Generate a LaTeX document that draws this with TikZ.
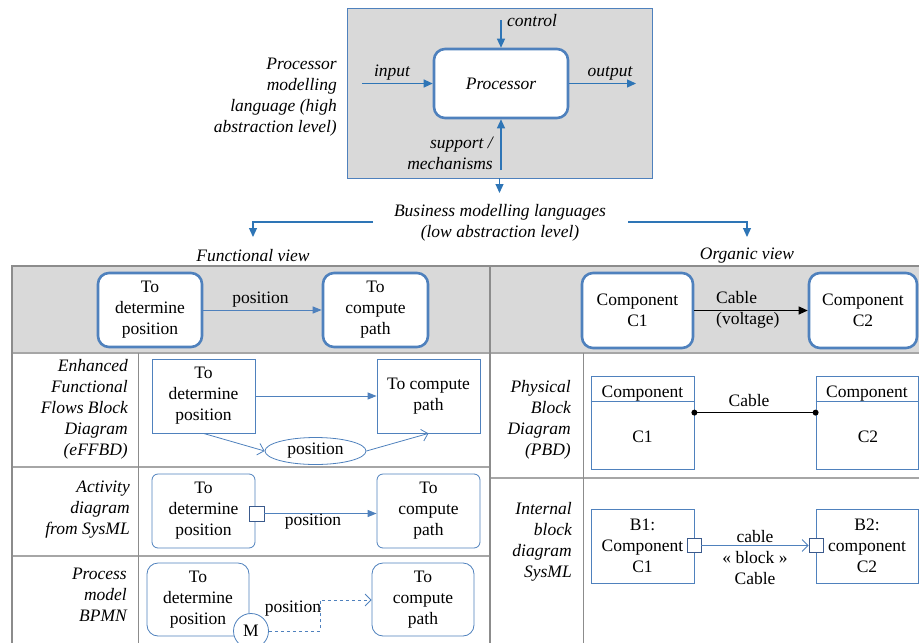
\documentclass[tikz,border=0pt]{standalone}
\usepackage{fontspec}
\setmainfont{Liberation Serif}
\usetikzlibrary{arrows.meta,shapes.geometric}
\definecolor{bl}{HTML}{4F81BD}
\definecolor{ab}{HTML}{2E75B6}
\definecolor{gr}{HTML}{D9D9D9}
\definecolor{tl}{HTML}{8C8C8C}
\definecolor{tl2}{HTML}{A6A6A6}
\definecolor{pn}{HTML}{3B5A8C}
\begin{document}
\begin{tikzpicture}[x=1pt,y=-1pt,
  every node/.style={font=\fontsize{17.5}{21}\selectfont, inner sep=0pt, align=center, text=black},
  lab/.style={font=\fontsize{17.5}{21}\selectfont\itshape},
  tbox/.style={draw=bl, line width=2.6pt, rounded corners=11pt, fill=white},
  sbox/.style={draw=bl, line width=0.8pt, fill=white},
  rbox/.style={draw=bl, line width=0.8pt, fill=white, rounded corners=6pt},
  rbox2/.style={draw=bl, line width=0.8pt, fill=white, rounded corners=11pt},
  pin/.style={draw=pn, line width=0.8pt, fill=white, minimum size=15pt},
  ar/.style={draw=ab, line width=1.2pt, -{Triangle[length=9pt,width=8pt]}},
  fa/.style={draw=bl, line width=1pt, -{Triangle[length=9pt,width=7pt]}},
  oa/.style={draw=bl, line width=0.8pt, -{Straight Barb[length=6pt,width=12pt]}}
]
\useasboundingbox (0,0) rectangle (919,643);

% ---------- top processor block ----------
\node[draw=bl, fill=gr, line width=0.8pt, minimum width=305pt, minimum height=170pt] (top) at (499.5,93) {};
\node[tbox, minimum width=134pt, minimum height=69pt] (proc) at (501,83.5) {\itshape Processor};
\coordinate (ctl) at (501,20);
\coordinate (inp) at (362,83.5);
\coordinate (outp) at (636,83.5);
\coordinate (sup) at (501,170);
\coordinate (bma) at (499.5,193);
\draw[ar] (ctl) -- (proc.north);
\draw[ar] (inp) -- (proc.west);
\draw[ar] (proc.east) -- (outp);
\draw[ar] (sup) -- (proc.south);
\draw[ar] (top.south) -- (bma);
\node[lab, anchor=west] (lctl) at (507,21) {control};
\node[lab] (linp) at (392,73) {input};
\node[lab] (lout) at (610,73) {output};
\node[lab, align=right, anchor=east] (lsup) at (493,153) {support /\\mechanisms};
\node[lab, align=right, anchor=east] (lpml) at (337,97.5) {Processor\\modelling\\language (high\\abstraction level)};

% ---------- business modelling ----------
\node[lab] (bus) at (500,223) {Business modelling languages\\(low abstraction level)};
\coordinate (bl1) at (373,222);
\coordinate (fv) at (253,237);
\coordinate (br1) at (628,222);
\coordinate (ov) at (747,237);
\draw[ar] (bl1) -| (fv);
\draw[ar] (br1) -| (ov);
\node[lab] (lfv) at (253,256) {Functional view};
\node[lab] (lov) at (747,256) {Organic view};

% ---------- table ----------
\fill[gr] (12,266) rectangle (919,353);
\draw[tl2, line width=1.6pt] (12,353) -- (919,353);
\draw[tl2, line width=1.6pt] (12,467) -- (490,467);
\draw[tl2, line width=1.6pt] (12,556) -- (490,556);
\draw[tl2, line width=1.6pt] (490,478) -- (919,478);
\draw[tl, line width=1pt] (138,353) -- (138,643);
\draw[tl, line width=1pt] (583,353) -- (583,643);
\draw[tl, line width=2pt] (919,266) -- (12,266) -- (12,643);
\draw[tl, line width=2pt] (490,266) -- (490,643);

% header left
\node[tbox, minimum width=104pt, minimum height=74pt] (hl1) at (150,310) {To\\determine\\position};
\node[tbox, minimum width=105pt, minimum height=74pt] (hl2) at (375.5,310) {To\\compute\\path};
\draw[fa] (hl1.east) -- (hl2.west);
\node (hlp) at (260.5,300) {position};

% header right
\node[tbox, minimum width=111pt, minimum height=75pt] (hr1) at (637.5,310.5) {Component\\C1};
\node[tbox, minimum width=108pt, minimum height=75pt] (hr2) at (863,310.5) {Component\\C2};
\draw[black, line width=1pt, -{Triangle[length=9pt,width=8pt]}] (hr1.east) -- (hr2.west);
\node[align=left, anchor=west] (hrc) at (716,310) {Cable\\(voltage)};

% eFFBD
\node[lab, align=right, anchor=east] (leff) at (128,409) {Enhanced\\Functional\\Flows Block\\Diagram\\(eFFBD)};
\node[sbox, minimum width=103pt, minimum height=74pt] (e1) at (203.5,396) {To\\determine\\position};
\node[sbox, minimum width=103pt, minimum height=74pt] (e2) at (428.5,396) {To compute\\path};
\draw[fa] (e1.east) -- (e2.west);
\node[ellipse, draw=bl, line width=0.8pt, fill=white, minimum width=101pt, minimum height=27pt] (ep) at (315.5,451) {position};
\draw[oa] (e1.south) -- (ep.west);
\draw[oa] (ep.east) -- (e2.south);

% Activity
\node[lab, align=right, anchor=east] (lact) at (130,510) {Activity\\diagram\\from SysML};
\node[rbox, minimum width=103pt, minimum height=74pt] (a1) at (203.5,511) {To\\determine\\position};
\node[rbox, minimum width=103pt, minimum height=74pt] (a2) at (428.5,511) {To\\compute\\path};
\node[pin] (ap) at (256.5,513.5) {};
\draw[fa] (ap.east) -- (ap.east -| a2.west);
\node (apl) at (313,522) {position};

% BPMN
\node[lab, align=right, anchor=east] (lbp) at (127,595) {Process\\model\\BPMN};
\node[rbox2, minimum width=102pt, minimum height=73pt] (b1) at (198,599.5) {To\\determine\\position};
\node[rbox2, minimum width=102pt, minimum height=73pt] (b2) at (423,599.5) {To\\compute\\path};
\node (bpl) at (293,609) {position};
\node[circle, draw=bl, line width=0.8pt, fill=white, minimum size=35pt] (bm) at (251,631) {M};
\coordinate (bd) at (320,600);
\draw[oa, dashed] (bm.east) -| (bd) -- (bd -| b2.west);

% PBD
\node[lab, align=right, anchor=east] (lpbd) at (571,419.5) {Physical\\Block\\Diagram\\(PBD)};
\node[sbox, minimum width=103pt, minimum height=93pt] (p1) at (642.5,422.5) {};
\node[sbox, minimum width=102pt, minimum height=93pt] (p2) at (867,422.5) {};
\draw[bl, line width=0.8pt] ([yshift=-26pt]p1.north west) -- ([yshift=-26pt]p1.north east);
\draw[bl, line width=0.8pt] ([yshift=-26pt]p2.north west) -- ([yshift=-26pt]p2.north east);
\node (p1a) at (642.5,394) {Component};
\node (p1b) at (642.5,437) {C1};
\node (p2a) at (867,394) {Component};
\node (p2b) at (868,437) {C2};
\coordinate (ca) at ([yshift=-37pt]p1.north east);
\coordinate (cb) at ([yshift=-37pt]p2.north west);
\draw[black, line width=1pt] (ca) -- (cb);
\fill[black] (ca) circle (3pt);
\fill[black] (cb) circle (3pt);
\node (pcl) at (749,401) {Cable};

% IBD
\node[lab, align=right, anchor=east] (libd) at (572,541.5) {Internal\\block\\diagram\\SysML};
\node[sbox, minimum width=103pt, minimum height=74pt] (i1) at (642.5,546) {B1:\\Component\\C1};
\node[sbox, minimum width=102pt, minimum height=74pt] (i2) at (867,546) {B2:\\component\\C2};
\node[pin, minimum size=14pt] (ip1) at (694,545.5) {};
\node[pin, minimum size=14pt] (ip2) at (816,545.5) {};
\draw[oa] (ip1.east) -- (ip2.west);
\node (icl) at (755,558) {cable\\« block »\\Cable};
\end{tikzpicture}
\end{document}
